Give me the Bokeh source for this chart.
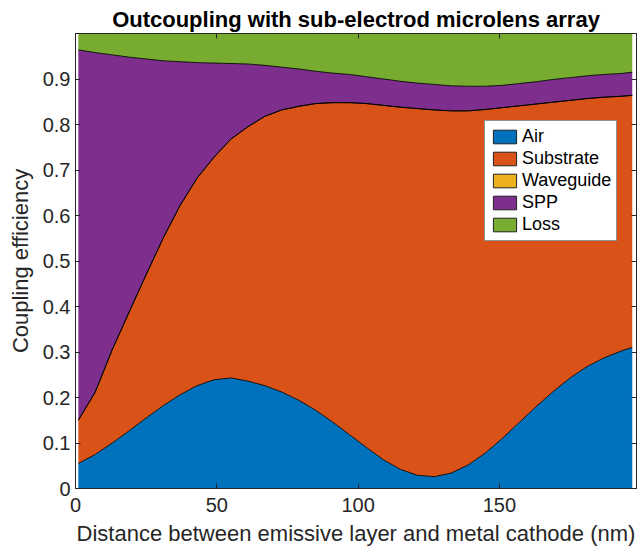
import numpy as np
from bokeh.plotting import figure
from bokeh.models import (LinearAxis, Legend, LegendItem, FixedTicker, Range1d,
                          ColumnDataSource)
from bokeh.transform import stack
from bokeh.embed import file_html
from bokeh.resources import INLINE

# ---------------- data ----------------
distance_nm = [1, 7, 13, 19, 25, 31, 37, 43, 49, 55, 61, 67, 73, 79, 85, 91, 97,
               103, 109, 115, 121, 127, 133, 139, 145, 151, 157, 163, 169, 175,
               181, 187, 193, 197]
air = [0.055, 0.075, 0.100, 0.127, 0.155, 0.182, 0.206, 0.226, 0.239, 0.243,
       0.236, 0.226, 0.212, 0.194, 0.172, 0.146, 0.118, 0.090, 0.063, 0.042,
       0.029, 0.026, 0.034, 0.052, 0.078, 0.110, 0.145, 0.180, 0.213, 0.243,
       0.268, 0.287, 0.302, 0.310]
substrate = [0.095, 0.137, 0.205, 0.261, 0.315, 0.368, 0.416, 0.456, 0.489, 0.525,
             0.559, 0.592, 0.620, 0.646, 0.674, 0.702, 0.730, 0.756, 0.779, 0.796,
             0.806, 0.806, 0.796, 0.778, 0.755, 0.727, 0.696, 0.665, 0.636, 0.610,
             0.589, 0.573, 0.560, 0.554]
waveguide = [0.0, 0.0, 0.0, 0.0, 0.0, 0.0, 0.0, 0.0, 0.0, 0.0, 0.0, 0.0, 0.0, 0.0,
             0.0, 0.0, 0.0, 0.0, 0.0, 0.0, 0.0, 0.0, 0.0, 0.0, 0.0, 0.0, 0.0, 0.0,
             0.0, 0.0, 0.0, 0.0, 0.0, 0.0]
spp = [0.814, 0.746, 0.648, 0.560, 0.474, 0.390, 0.316, 0.254, 0.207, 0.166,
       0.138, 0.112, 0.094, 0.082, 0.071, 0.065, 0.062, 0.059, 0.058, 0.057,
       0.056, 0.056, 0.055, 0.054, 0.051, 0.049, 0.049, 0.049, 0.050, 0.050,
       0.050, 0.050, 0.050, 0.051]
loss = [0.036, 0.042, 0.047, 0.052, 0.056, 0.060, 0.062, 0.064, 0.065, 0.066,
        0.067, 0.070, 0.074, 0.078, 0.083, 0.087, 0.090, 0.095, 0.100, 0.105,
        0.109, 0.112, 0.115, 0.116, 0.116, 0.114, 0.110, 0.106, 0.101, 0.097,
        0.093, 0.090, 0.088, 0.087]

series_names = ["Air", "Substrate", "Waveguide", "SPP", "Loss"]
series_colors = ["#0072BD", "#D95319", "#EDB120", "#7E2F8E", "#77AC30"]

x_ticks = [0, 50, 100, 150]
y_ticks = [0, 0.1, 0.2, 0.3, 0.4, 0.5, 0.6, 0.7, 0.8, 0.9]
y_tick_labels = ["0", "0.1", "0.2", "0.3", "0.4", "0.5", "0.6", "0.7", "0.8", "0.9"]

title_text = "Outcoupling with sub-electrod microlens array"
x_label = "Distance between emissive layer and metal cathode (nm)"
y_label = "Coupling efficiency"

# ---------------- figure ----------------
FONT = "Liberation Sans"
AXC = "#262626"

src = ColumnDataSource(dict(x=distance_nm, Air=air, Substrate=substrate,
                            Waveguide=waveguide, SPP=spp, Loss=loss))

p = figure(width=638, height=549, output_backend="svg", toolbar_location=None,
           x_range=Range1d(0, 198.5), y_range=Range1d(0, 1),
           min_border_left=75, min_border_right=2, min_border_top=33,
           min_border_bottom=61)

p.varea_stack(stackers=series_names, x="x", source=src, color=series_colors)
# black patch edges at each stacked boundary
for i in range(len(series_names) - 1):
    p.line(x="x", y=stack(*series_names[:i + 1]), source=src,
           line_color="black", line_width=0.9)

# legend swatches (outlined rectangles like MATLAB); NaN geometry -> nothing drawn in plot
items = []
for name, col in zip(series_names, series_colors):
    r = p.quad(left=[np.nan], right=[np.nan], top=[np.nan], bottom=[np.nan],
               fill_color=col, line_color="#222222", line_width=1)
    items.append(LegendItem(label=name, renderers=[r]))

legend = Legend(items=items, location=(409, 247), margin=0, padding=5,
                spacing=1, glyph_width=29, glyph_height=17, label_height=17,
                label_standoff=3, label_text_font=FONT,
                label_text_font_size="18px", label_text_color="black",
                border_line_color=AXC, border_line_width=1,
                background_fill_color="white", background_fill_alpha=1.0)
p.add_layout(legend)

p.grid.visible = False
p.outline_line_color = AXC
p.outline_line_width = 1

p.title.text = title_text
p.title.align = "center"
p.title.text_font = FONT
p.title.text_font_size = "22px"
p.title.text_font_style = "bold"
p.title.text_color = "black"
p.title.standoff = 3

for ax in (p.xaxis[0], p.yaxis[0]):
    ax.major_label_text_font = FONT
    ax.major_label_text_font_size = "20px"
    ax.major_label_text_color = AXC
    ax.axis_label_text_font = FONT
    ax.axis_label_text_font_size = "22px"
    ax.axis_label_text_font_style = "normal"
    ax.axis_label_text_color = AXC
    ax.axis_line_color = AXC
    ax.major_tick_line_color = AXC
    ax.major_tick_in = 5
    ax.major_tick_out = 0
    ax.minor_tick_line_color = None

p.xaxis[0].ticker = FixedTicker(ticks=x_ticks)
p.xaxis[0].axis_label = x_label
p.xaxis[0].major_label_standoff = 9
p.xaxis[0].axis_label_standoff = 6

p.yaxis[0].ticker = FixedTicker(ticks=y_ticks)
p.yaxis[0].major_label_overrides = dict(zip(y_ticks, y_tick_labels))
p.yaxis[0].axis_label = y_label
p.yaxis[0].major_label_standoff = 5
p.yaxis[0].axis_label_standoff = 7

# box ticks on top and right (labels hidden)
top_ax = LinearAxis(ticker=FixedTicker(ticks=x_ticks), major_label_text_font_size="1px",
                    major_label_text_color=None,
                    major_tick_in=5, major_tick_out=0, major_label_standoff=0,
                    minor_tick_line_color=None, axis_line_color=AXC,
                    major_tick_line_color=AXC)
right_ax = LinearAxis(ticker=FixedTicker(ticks=y_ticks), major_label_text_font_size="1px",
                      major_label_text_color=None,
                      major_tick_in=5, major_tick_out=0, major_label_standoff=0,
                      minor_tick_line_color=None, axis_line_color=AXC,
                      major_tick_line_color=AXC)
p.add_layout(top_ax, "above")
p.add_layout(right_ax, "right")

open("out.html", "w").write(file_html(p, INLINE))
